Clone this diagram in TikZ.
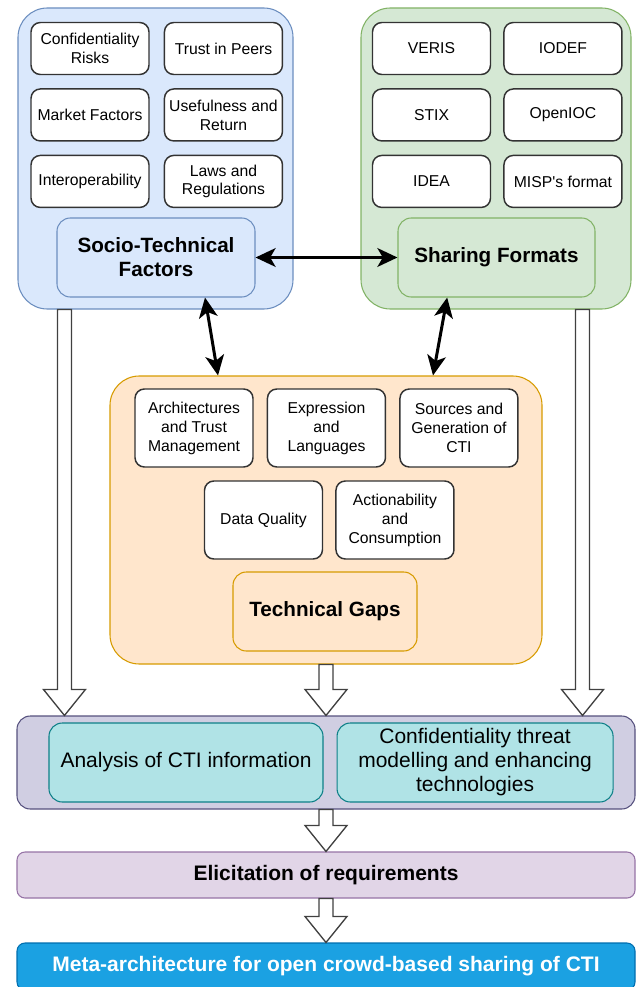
\documentclass[tikz,border=0pt]{standalone}
\usepackage{fontspec}
\setmainfont{Liberation Sans}[Ligatures=TeXOff]
\usepackage{xcolor}
\usepackage{tikz}
\usetikzlibrary{arrows.meta,positioning,calc}

\definecolor{socfill}{HTML}{DAE8FC}
\definecolor{socline}{HTML}{6C8EBF}
\definecolor{fmtfill}{HTML}{D5E8D4}
\definecolor{fmtline}{HTML}{82B366}
\definecolor{gapfill}{HTML}{FFE6CC}
\definecolor{gapline}{HTML}{D79B00}
\definecolor{stagefill}{HTML}{D0CEE2}
\definecolor{stageline}{HTML}{56517E}
\definecolor{taskfill}{HTML}{B0E3E6}
\definecolor{taskline}{HTML}{0E8088}
\definecolor{reqfill}{HTML}{E1D5E7}
\definecolor{reqline}{HTML}{9673A6}
\definecolor{metafill}{HTML}{1BA1E2}
\definecolor{metaline}{HTML}{006EAF}

% hollow block arrow, straight down from #1 to the level of #2
\newcommand{\blockflow}[2]{\draw[hollow] let \p1=(#1), \p2=(#2) in (\x1-5.25pt,\y1) -- (\x1-5.25pt,\y2+19.5pt) -- (\x1-15.75pt,\y2+19.5pt) -- (\x1,\y2) -- (\x1+15.75pt,\y2+19.5pt) -- (\x1+5.25pt,\y2+19.5pt) -- (\x1+5.25pt,\y1) -- cycle;}

\begin{document}
\begin{tikzpicture}[x=0.75pt,y=-0.75pt,node distance=9.75pt and 10.5pt,group/.style={draw,rounded corners=22pt,line width=0.8pt},item/.style={draw=black!80,fill=white,rounded corners=7pt,line width=1.1pt,align=center,minimum width=88.5pt,minimum height=39pt,inner sep=1pt,font=\fontsize{11.8}{14.2}\selectfont},tall/.style={item,minimum height=58.5pt},title/.style={draw,rounded corners=10pt,line width=0.8pt,align=center,minimum height=59.25pt,inner sep=1pt,font=\fontsize{15.5}{18}\selectfont\bfseries},task/.style={draw=taskline,fill=taskfill,rounded corners=10pt,line width=0.8pt,align=center,minimum height=59.25pt,inner sep=1pt,font=\fontsize{15.75}{18}\selectfont},bar/.style={draw,rounded corners=6pt,line width=0.8pt,minimum width=463.5pt,inner sep=1pt,font=\fontsize{15.75}{18}\selectfont\bfseries},link/.style={<->,>={Stealth[length=15pt,width=14pt,inset=4pt]},line width=2.25pt},hollow/.style={draw=black!75,fill=white,line width=1pt,line join=miter}]
\useasboundingbox (0,0) rectangle (638,987);

% containers
\node[group,draw=socline,fill=socfill,minimum width=206.25pt,minimum height=225.75pt] (social) at (155.5,158.5) {};
\node[group,draw=fmtline,fill=fmtfill,minimum width=202.5pt,minimum height=225.75pt] (formats) at (496,158.5) {};
\node[group,draw=gapline,fill=gapfill,minimum width=324pt,minimum height=216pt] (gaps) at (326,520) {};
\node[group,draw=stageline,fill=stagefill,rounded corners=10pt,minimum width=463.5pt,minimum height=69.75pt] (stage) at (326,762.5) {};

% socio-technical factors
\node[item] (risks) at (90,48.5) {Confidentiality\\Risks};
\node[item,right=of risks] (trust) {Trust in Peers};
\node[item,below=of risks] (market) {Market Factors};
\node[item,below=of trust] (useful) {Usefulness and\\Return};
\node[item,below=of market] (interop) {Interoperability};
\node[item,below=of useful] (laws) {Laws and\\Regulations};
\node[title,draw=socline,fill=socfill,minimum width=148.5pt] (socio) at (156,257.5) {Socio-Technical\\Factors};

% sharing formats
\node[item] (veris) at (431.5,48.5) {VERIS};
\node[item,right=9pt of veris] (iodef) {IODEF};
\node[item,below=of veris] (stix) {STIX};
\node[item,below=of iodef] (openioc) {OpenIOC};
\node[item,below=of stix] (idea) {IDEA};
\node[item,below=of openioc] (misp) {MISP's format};
\node[title,draw=fmtline,fill=fmtfill,minimum width=147.75pt] (sharing) at (496.5,257.5) {Sharing Formats};

% technical gaps
\node[tall] (arch) at (194,428) {Architectures\\and Trust\\Management};
\node[tall,right=9.75pt of arch] (expr) {Expression\\and\\Languages};
\node[tall,right=9.75pt of expr] (sources) {Sources and\\Generation of\\CTI};
\node[tall] (quality) at (263.5,520) {Data Quality};
\node[tall,right=9pt of quality] (action) {Actionability\\and\\Consumption};
\node[title,draw=gapline,fill=gapfill,minimum width=138pt] (techgaps) at (325,611.5) {Technical Gaps};

% analysis stage
\node[task,minimum width=205.5pt] (analysis) at (186,762.5) {Analysis of CTI information};
\node[task,minimum width=207pt,right=9.75pt of analysis] (privacy) {Confidentiality threat\\modelling and enhancing\\technologies};
\node[bar,draw=reqline,fill=reqfill,minimum height=34.5pt] (req) at (326,875) {Elicitation of requirements};
\node[bar,draw=metaline,fill=metafill,text=white,minimum height=35.25pt] (meta) at (326,966.5) {Meta-architecture for open crowd-based sharing of CTI};

\draw[link] (socio) -- (sharing);
\draw[link] ([xshift=36.75pt]socio.south) -- ([xshift=-81pt]gaps.north);
\draw[link] ([xshift=-37pt]sharing.south) -- ([xshift=80.25pt]gaps.north);

\coordinate (socout) at ([xshift=35.25pt]social.south west);
\coordinate (fmtout) at ([xshift=-36.75pt]formats.south east);
\blockflow{socout}{socout |- stage.north}
\blockflow{gaps.south}{stage.north}
\blockflow{fmtout}{fmtout |- stage.north}
\blockflow{stage.south}{req.north}
\blockflow{req.south}{meta.north}
\end{tikzpicture}
\end{document}
